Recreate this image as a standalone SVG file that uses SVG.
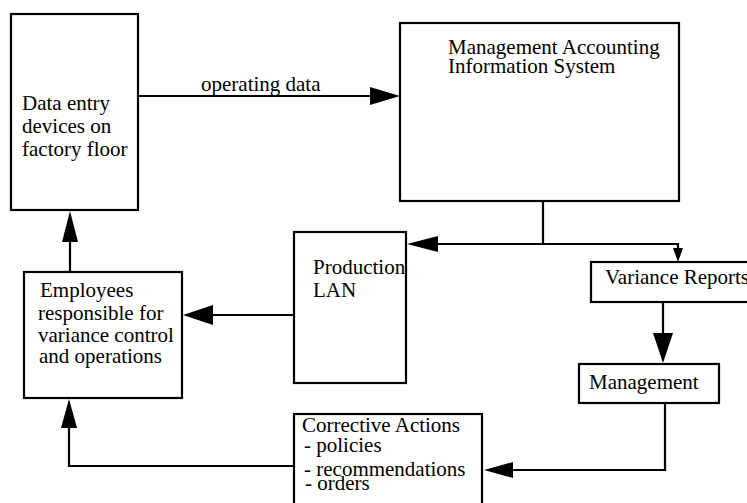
<svg xmlns="http://www.w3.org/2000/svg" width="747" height="503" viewBox="0 0 747 503">
<style>
.box{fill:#fff;stroke:#000;stroke-width:2.2}
.ln{fill:none;stroke:#000;stroke-width:2.2}
.ah{fill:#000;stroke:none}
.t{font-family:'Liberation Serif','Times New Roman',serif;font-size:21px;fill:#000}
</style>
<rect width="747" height="503" fill="#fff"/>
<g id="connectors">
<line class="ln" x1="138" y1="96" x2="372" y2="96"/>
<polygon class="ah" points="370,87 400,96 370,105"/>
<text class="t" x="201" y="91">operating data</text>
<line class="ln" x1="70" y1="272" x2="70" y2="240"/>
<polygon class="ah" points="62,242 70,211 78,242"/>
<polyline class="ln" points="543,201 543,244"/>
<line class="ln" x1="436" y1="244" x2="678" y2="244"/>
<polygon class="ah" points="438,236 407,244 438,252"/>
<line class="ln" x1="678" y1="243" x2="678" y2="250"/>
<polygon class="ah" points="673,248 678,262 683,248"/>
<line class="ln" x1="294" y1="315" x2="211" y2="315"/>
<polygon class="ah" points="213,305 183,315 213,325"/>
<line class="ln" x1="663" y1="302" x2="663" y2="335"/>
<polygon class="ah" points="653,333 663,363 673,333"/>
<polyline class="ln" points="665,403 665,470 511,470"/>
<polygon class="ah" points="513,462 484,470 513,478"/>
<polyline class="ln" points="294,466 69,466 69,426"/>
<polygon class="ah" points="61,428 69,399 77,428"/>
</g>
<g id="data-entry">
<rect class="box" x="11" y="14" width="127" height="196"/>
<text class="t" x="22" y="110">Data entry</text>
<text class="t" x="22" y="133">devices on</text>
<text class="t" x="22" y="156">factory floor</text>
</g>
<g id="mais">
<rect class="box" x="400" y="23" width="279" height="178"/>
<text class="t" x="448" y="54">Management Accounting</text>
<text class="t" x="448" y="73">Information System</text>
</g>
<g id="production-lan">
<rect class="box" x="294" y="232" width="112" height="151"/>
<text class="t" x="313" y="274">Production</text>
<text class="t" x="313" y="297">LAN</text>
</g>
<g id="employees">
<rect class="box" x="24" y="272" width="158" height="126"/>
<text class="t" x="40" y="297">Employees</text>
<text class="t" x="38" y="320">responsible for</text>
<text class="t" x="38" y="342">variance control</text>
<text class="t" x="39" y="363">and operations</text>
</g>
<g id="variance-reports">
<rect class="box" x="591" y="262" width="170" height="40"/>
<text class="t" x="605" y="284">Variance Reports</text>
</g>
<g id="management">
<rect class="box" x="579" y="364" width="140" height="39"/>
<text class="t" x="589" y="389">Management</text>
</g>
<g id="corrective-actions">
<rect class="box" x="294" y="414" width="188" height="100"/>
<text class="t" x="302" y="432">Corrective Actions</text>
<text class="t" x="304" y="452">- policies</text>
<text class="t" x="304" y="476">- recommendations</text>
<text class="t" x="305" y="490">- orders</text>
</g>
</svg>
